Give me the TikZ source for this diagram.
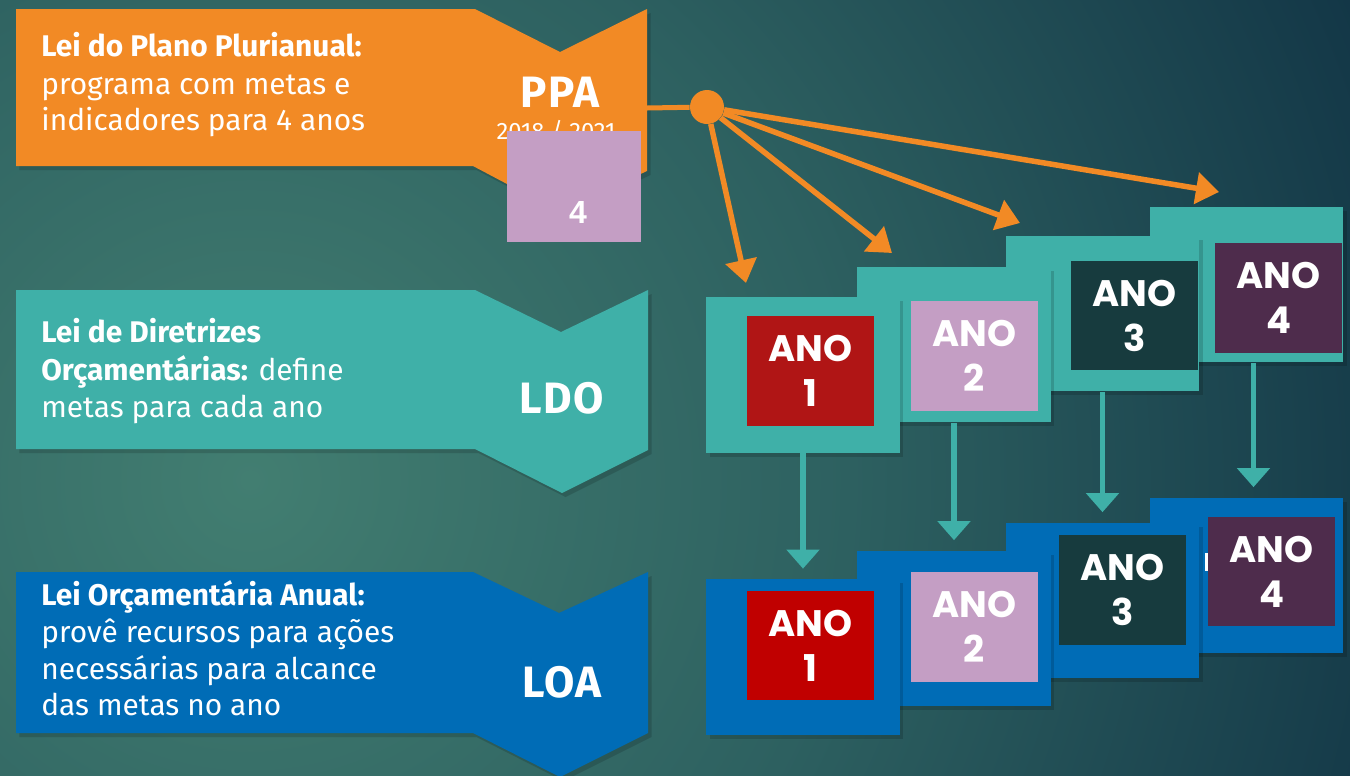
\documentclass[tikz,border=0pt]{standalone}
\usepackage{fontspec}
\setmainfont{Fira Sans}
\newfontfamily\lblfont[LetterSpace=3]{Fira Sans}
\newfontfamily\anofont{Poppins}
\newfontfamily\arialfont{Liberation Sans}
\usetikzlibrary{arrows.meta,shadows}
\definecolor{bgin}{HTML}{427E71}
\definecolor{bgmid}{HTML}{2D6060}
\definecolor{bgout}{HTML}{133747}
\definecolor{ppaor}{HTML}{F28A25}
\definecolor{ldoteal}{HTML}{3FB0A8}
\definecolor{loablue}{HTML}{006CB6}
\definecolor{anored}{HTML}{B01515}
\definecolor{anoredb}{HTML}{C00000}
\definecolor{anopink}{HTML}{C49EC4}
\definecolor{anodark}{HTML}{173B3E}
\definecolor{anopurple}{HTML}{4E2C4C}
\pgfdeclareradialshading{bgshade}{\pgfpoint{0bp}{0bp}}{color(0bp)=(bgin); color(10bp)=(bgmid); color(20bp)=(bgout); color(50bp)=(bgout)}
\begin{document}
\begin{tikzpicture}[x=0.02cm,y=-0.02cm,
  softshadow/.style={drop shadow={shadow xshift=0.07cm,shadow yshift=-0.08cm,opacity=0.15,fill=black}},
  bodytxt/.style={anchor=base west,text=white,inner sep=0,font=\fontsize{17}{20}\selectfont},
  lawlbl/.style={anchor=base,text=white,inner sep=0,font=\lblfont\bfseries\fontsize{25}{28}\selectfont},
  yrbox/.style={minimum width=3.88cm,minimum height=3.12cm,inner sep=0,draw=none,softshadow},
  ldobox/.style={yrbox,fill=ldoteal},
  loabox/.style={yrbox,fill=loablue},
  anobox/.style={minimum width=2.54cm,minimum height=2.2cm,inner sep=0,text=white,align=center,
    font=\anofont\bfseries\fontsize{21}{25.6}\selectfont},
  oarrow/.style={draw=ppaor,line width=0.11cm,-{Triangle[length=0.46cm,width=0.62cm]}},
  tarrow/.style={draw=ldoteal,line width=0.11cm,-{Triangle[length=0.38cm,width=0.64cm]},shorten >=0.2cm}
]
\useasboundingbox (0,0) rectangle (1350,775);
% background
\begin{scope}
\clip (0,0) rectangle (1350,775);
\shade[shading=bgshade] (250,480) circle (1500);
\end{scope}

% law banners
\fill[ppaor,softshadow] (16,9) -- (475,9) -- (560,52) -- (647,9) -- (647,171) -- (560,212) -- (473,166) -- (16,166) -- cycle;
\fill[ldoteal,softshadow] (16,290) -- (475,290) -- (561,332) -- (648,290) -- (648,450) -- (562,493) -- (475,449) -- (16,449) -- cycle;
\fill[loablue,softshadow] (16,572) -- (473,572) -- (559,613) -- (648,572) -- (648,733) -- (560,777) -- (473,733) -- (16,733) -- cycle;

% PPA texts
\node[bodytxt] (ppa1) at (41,56.5) {\textbf{Lei do Plano Plurianual:}};
\node[bodytxt] (ppa2) at (41,94) {programa com metas e};
\node[bodytxt] (ppa3) at (41,130.5) {indicadores para 4 anos};
\node[lawlbl] (ppalbl) at (560,107) {PPA};
\node[anchor=base,text=white,inner sep=0,font=\fontsize{13.5}{15}\selectfont] (ppayear) at (556,139) {2018 / 2021};

% LDO texts
\node[bodytxt] (ldo1) at (41,342) {\textbf{Lei de Diretrizes}};
\node[bodytxt] (ldo2) at (41,380) {\textbf{Orçamentárias:} define};
\node[bodytxt] (ldo3) at (41,417) {metas para cada ano};
\node[lawlbl] (ldolbl) at (562,413) {LDO};

% LOA texts
\node[bodytxt] (loa1) at (41,605) {\textbf{Lei Orçamentária Anual:}};
\node[bodytxt] (loa2) at (41,642) {provê recursos para ações};
\node[bodytxt] (loa3) at (41,679) {necessárias para alcance};
\node[bodytxt] (loa4) at (41,715) {das metas no ano};
\node[lawlbl] (loalbl) at (562,697) {LOA};

% pink box over PPA
\node[fill=anopink,minimum width=2.68cm,minimum height=2.22cm,inner sep=0] (ppafour) at (574,186.5) {};
\node[anchor=base,text=white,inner sep=0,font=\arialfont\bfseries\fontsize{18.2}{20}\selectfont] (fourtxt) at (578,223) {4};

% hub
\coordinate (ppaE) at (647,108);
\node[circle,fill=ppaor,minimum size=0.68cm,inner sep=0] (hub) at (707,107) {};
\draw[draw=ppaor,line width=0.1cm] (ppaE) -- (hub);

% LDO year boxes
\node[ldobox] (l4) at (1246.5,284.5) {};
\node[anobox,fill=anopurple] (a4) at (1278.5,298) {ANO\\4};
\node[ldobox] (l3) at (1102.5,313.5) {};
\node[anobox,fill=anodark] (a3) at (1134.5,315.5) {ANO\\3};
\node[ldobox] (l2) at (954,344.5) {};
\node[anobox,fill=anopink] (a2) at (974.5,356) {ANO\\2};
\node[ldobox] (l1) at (803,375) {};
\node[anobox,fill=anored] (a1) at (810.5,371) {ANO\\1};

% LOA year boxes
\node[loabox] (o4) at (1246.5,575.5) {};
\fill[white] (1205,553) rectangle (1209,571);
\node[anobox,fill=anopurple] (b4) at (1271.5,571.5) {ANO\\4};
\node[loabox] (o3) at (1102.5,600.5) {};
\node[anobox,fill=anodark] (b3) at (1122.5,590) {ANO\\3};
\node[loabox] (o2) at (954,628.5) {};
\node[anobox,fill=anopink] (b2) at (974.5,627) {ANO\\2};
\node[loabox] (o1) at (803,657) {};
\node[anobox,fill=anoredb] (b1) at (810.5,645.5) {ANO\\1};

% teal arrows LDO -> LOA
\draw[tarrow] (l1.south) -- (o1.north);
\draw[tarrow] (l2.south) -- (o2.north);
\draw[tarrow] (l3.south) -- (o3.north);
\draw[tarrow] ([xshift=0.14cm]l4.south) -- ([xshift=0.14cm]o4.north);

% orange arrows PPA -> LDO
\coordinate (t1) at (746,283);
\coordinate (t2) at (892,253);
\coordinate (t3) at (1020,223);
\coordinate (t4) at (1219,192);
\draw[oarrow] (hub) -- (t1);
\draw[oarrow] (hub) -- (t2);
\draw[oarrow] (hub) -- (t3);
\draw[oarrow] (hub) -- (t4);
\end{tikzpicture}
\end{document}
